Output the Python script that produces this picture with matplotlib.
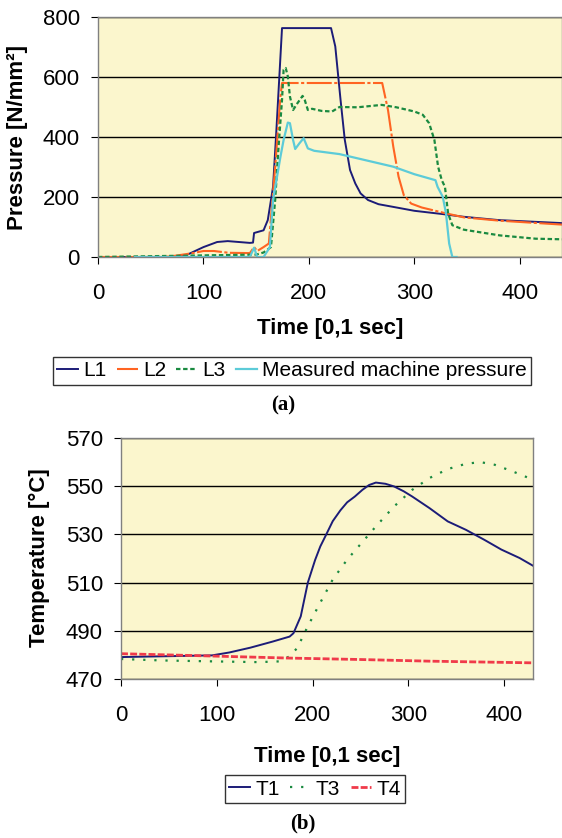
import matplotlib
matplotlib.use("Agg")
import matplotlib.pyplot as plt

plt.rcParams["font.family"] = ["Liberation Sans", "DejaVu Sans"]

# --- pressure curves (time in 0.1 s, pressure in N/mm2) ---
l1_t = [0, 70, 83, 100, 113, 123, 144, 147, 148, 157, 161, 166, 169, 174.5,
        221, 225, 230, 234, 239, 244, 249, 256, 266, 280, 300, 327, 347, 380, 440]
l1_p = [0, 0, 5, 33, 50, 53, 47, 48, 80, 89, 123, 234, 412, 763,
        763, 702, 524, 391, 290, 245, 212, 190, 176, 167, 154, 143, 134, 123, 113]

l2_t = [0, 60, 69, 90, 100, 110, 124, 144, 148, 151, 157, 162, 168, 173, 174.5,
        269.5, 275, 280, 285, 290, 297, 307, 327, 347, 381, 440]
l2_p = [0, 0, 2, 13, 20, 20, 14, 13, 33, 20, 33, 45, 300, 535, 580,
        580, 490, 368, 268, 206, 178, 165, 148, 132, 121, 108]

l3_t = [0, 150, 157, 164, 168, 171, 174.5, 176, 178, 180, 182, 185, 189, 194,
        196, 199, 203, 212, 222, 229, 246, 269, 283, 300, 308, 314, 319, 322.5,
        326, 329, 332, 336, 347, 381, 415, 440]
l3_p = [0, 8, 15, 33, 190, 357, 524, 624, 630, 602, 535, 490, 512, 537,
        524, 490, 494, 487, 485, 500, 499, 507, 499, 485, 474, 446, 390, 301,
        256, 234, 145, 106, 91, 72, 61, 59]

mp_t = [35, 144, 148, 151, 157, 163, 166, 173, 176, 180, 182, 185, 187, 191,
        195, 199, 205, 229, 246, 280, 300, 320, 322, 327, 330, 333, 336, 340]
mp_p = [0, 0, 31, 0, 0, 33, 190, 334, 390, 448, 446, 390, 360, 379,
        396, 362, 354, 343, 329, 301, 276, 256, 234, 200, 145, 45, 0, 0]

# --- temperature curves (deg C) ---
t1_t = [0, 95, 113, 135, 158, 176, 180, 187.6, 195, 202.6, 208, 214, 221, 229,
        236, 244, 252, 259, 266, 276, 285, 295, 304, 322, 341, 360, 379, 397,
        416, 430]
t1_v = [479.1, 479.8, 481, 483, 485.5, 487.6, 489, 496, 510, 519.4, 525,
        529.8, 535.5, 540, 543.3, 545.7, 548.5, 550.5, 551.5, 551, 549.9,
        547.9, 545.7, 540.9, 535.4, 531.9, 527.8, 523.7, 520.2, 517]

t3_t = [0, 42, 98, 143, 165, 176, 184, 195, 206, 221, 236, 251, 266, 285, 304,
        322, 341, 360, 375, 390, 409, 430]
t3_v = [478.3, 477.7, 477.3, 477, 477.3, 479.4, 482.9, 491.9, 500.2, 511.3,
        519.5, 526.4, 533.3, 541.6, 548.5, 553.4, 557.1, 559.3, 560, 558.9,
        556.1, 552.7]

t4_t = [0, 98, 173, 248, 322, 430]
t4_v = [480.5, 479.5, 478.7, 478.1, 477.4, 476.7]

bg = "#fbf6cd"
fs = 16
lfs = 15

fig = plt.figure(figsize=(5.62, 8.38), dpi=100)


def style_axes(ax):
    ax.set_facecolor(bg)
    ax.grid(axis="y", color="black", linewidth=1.0)
    ax.set_axisbelow(True)
    for s in ax.spines.values():
        s.set_color("#808080")
        s.set_linewidth(1.0)
    ax.tick_params(axis="both", direction="out", length=5, color="black",
                   labelsize=fs)
    ax.tick_params(axis="x", pad=14)
    ax.tick_params(axis="y", pad=8)


def boxed_legend(ax, anchor, ncol):
    leg = ax.legend(loc="center", bbox_to_anchor=anchor,
                    bbox_transform=fig.transFigure, ncol=ncol, fontsize=lfs,
                    frameon=True, fancybox=False, handlelength=1.0,
                    handletextpad=0.25, columnspacing=0.5, borderpad=0.2,
                    borderaxespad=0)
    leg.get_frame().set_edgecolor("black")
    leg.get_frame().set_linewidth(1.0)
    return leg


# (a) pressure
ax1 = fig.add_axes([98 / 562, 1 - 257 / 838, 1 - 98 / 562, 240 / 838])
style_axes(ax1)
ax1.plot(l1_t, l1_p, color="#1c1c78", lw=1.4, label="L1")
ax1.plot(l2_t, l2_p, color="#ff6422", lw=1.5, ls=(0, (12, 1.2, 1.5, 1.2)), label="L2")
ax1.plot(l3_t, l3_p, color="#1a8a40", lw=1.6, ls=(0, (2, 1.2)), label="L3")
ax1.plot(mp_t, mp_p, color="#5ccbd8", lw=1.6, label="Measured machine pressure")
ax1.set_xlim(0, 440)
ax1.set_ylim(0, 800)
ax1.set_xticks([0, 100, 200, 300, 400])
ax1.set_yticks([0, 200, 400, 600, 800])
ax1.set_xlabel("Time [0,1 sec]", fontsize=fs, fontweight="bold", labelpad=10)
fig.text(18 / 562, 1 - 137 / 838, "Pressure [N/mm²]", rotation=90,
         fontsize=fs, fontweight="bold", ha="center", va="center")
boxed_legend(ax1, (292 / 562, 1 - 371 / 838), 4)
fig.text(283 / 562, 1 - 405 / 838, "(a)", family="Liberation Serif",
         fontweight="bold", fontsize=15, ha="center", va="center")

# (b) temperature
ax2 = fig.add_axes([121 / 562, 1 - 679 / 838, 412 / 562, 241 / 838])
style_axes(ax2)
ax2.plot(t1_t, t1_v, color="#1c1c78", lw=1.4, label="T1")
ax2.plot(t3_t, t3_v, color="#1a8a40", lw=1.6, ls=(0, (1, 4)), label="T3")
ax2.plot(t4_t, t4_v, color="#f03a4a", lw=2.0, ls=(0, (2.5, 0.8)), label="T4")
ax2.set_xlim(0, 430)
ax2.set_ylim(470, 570)
ax2.set_xticks([0, 100, 200, 300, 400])
ax2.set_yticks([470, 490, 510, 530, 550, 570])
ax2.set_xlabel("Time [0,1 sec]", fontsize=fs, fontweight="bold", labelpad=14)
fig.text(39 / 562, 1 - 558 / 838, "Temperature [°C]", rotation=90,
         fontsize=fs, fontweight="bold", ha="center", va="center")
boxed_legend(ax2, (315 / 562, 1 - 789 / 838), 3)
fig.text(303 / 562, 1 - 823 / 838, "(b)", family="Liberation Serif",
         fontweight="bold", fontsize=15, ha="center", va="center")

fig.savefig("out.png", dpi=100, facecolor="white")
